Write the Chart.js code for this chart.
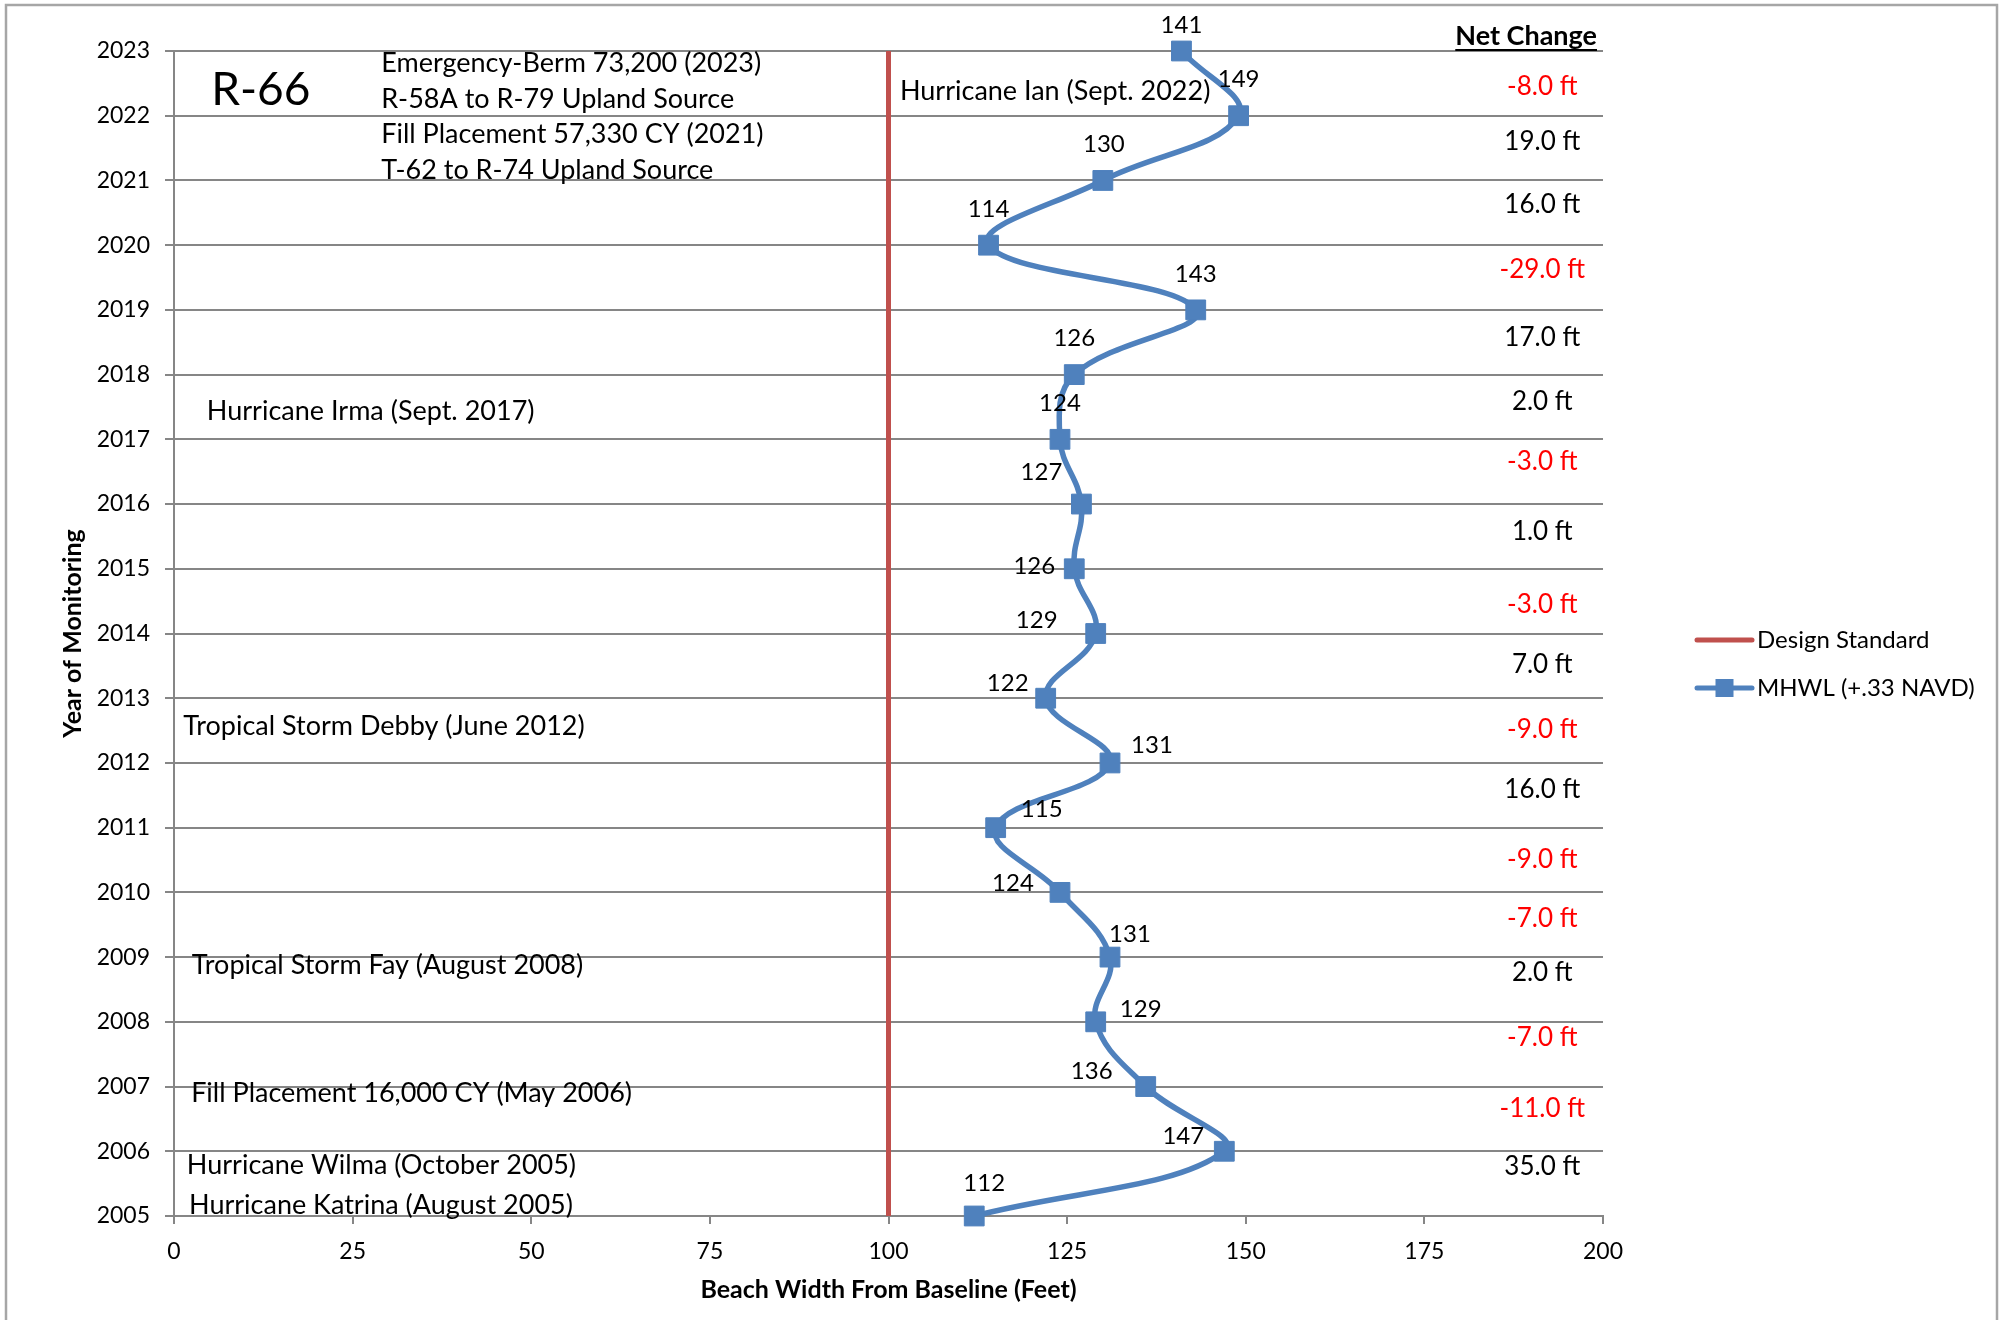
<!DOCTYPE html>
<html>
<head>
<meta charset="utf-8">
<title>R-66 Beach Width</title>
<script src="https://cdn.jsdelivr.net/npm/chart.js@4.4.1/dist/chart.umd.min.js"></script>
<style>
  html, body { margin: 0; padding: 0; background: #fff; }
  #chart { display: block; }
</style>
</head>
<body>
<canvas id="chart" width="2007" height="1320"></canvas>
<script>
// monitoring years, bottom to top
const years = [2005, 2006, 2007, 2008, 2009, 2010, 2011, 2012, 2013, 2014,
  2015, 2016, 2017, 2018, 2019, 2020, 2021, 2022, 2023];
// MHWL beach width (ft) for each year
const beachWidth = [112, 147, 136, 129, 131, 124, 115, 131, 122, 129,
  126, 127, 124, 126, 143, 114, 130, 149, 141];
const designStandard = 100;
// change between consecutive surveys (2005->2006 first)
const netChange = [35, -11, -7, 2, -7, -9, 16, -9, 7, -3,
  1, -3, 2, 17, -29, 16, 19, -8];
const xTicks = [0, 25, 50, 75, 100, 125, 150, 175, 200];

const seriesNames = ['Design Standard', 'MHWL (+.33 NAVD)'];

// event notes written on the plot: text, x (ft), y (year)
const notes = [
  { text: 'Emergency-Berm 73,200 (2023)', x: 29.0, y: 2022.81 },
  { text: 'R-58A to R-79 Upland Source', x: 29.0, y: 2022.26 },
  { text: 'Fill Placement 57,330 CY (2021)', x: 29.0, y: 2021.72 },
  { text: 'T-62 to R-74 Upland Source', x: 29.0, y: 2021.16 },
  { text: 'Hurricane Ian (Sept. 2022)', x: 101.6, y: 2022.38 },
  { text: 'Hurricane Irma (Sept. 2017)', x: 4.6, y: 2017.44 },
  { text: 'Tropical Storm Debby (June 2012)', x: 1.3, y: 2012.56 },
  { text: 'Tropical Storm Fay (August 2008)', x: 2.5, y: 2008.87 },
  { text: 'Fill Placement 16,000 CY (May 2006)', x: 2.4, y: 2006.90 },
  { text: 'Hurricane Wilma (October 2005)', x: 1.8, y: 2005.79 },
  { text: 'Hurricane Katrina (August 2005)', x: 2.1, y: 2005.17 }
];

// where each value label sits relative to its marker (px)
const labelNudge = [
  [10, -33], [-41, -15], [-54, -15], [45, -13], [20, -23], [-47, -9],
  [46, -18], [42, -18], [-38, -15], [-59, -13], [-40, -3], [-40, -32],
  [0, -36], [0, -36], [0, -36], [0, -36], [1, -36], [0, -36], [0, -26]
];
// vertical shift of each net change text from the gap midpoint (px)
const changeNudge = [-17, -10, -17, -17, -6, 0, -6, -1, -1, 3,
  -5, -10, -5, -5, -8, -8, -6, 3];

const FONT = 'Lato, "Open Sans", sans-serif';
const RED = '#C0504D';
const BLUE = '#4F81BD';
const GRID = '#868686';

const frame = {
  id: 'frame',
  beforeDraw(chart) {
    const ctx = chart.ctx;
    ctx.save();
    ctx.strokeStyle = '#a6a6a6';
    ctx.lineWidth = 2.5;
    ctx.strokeRect(6, 5, 1991, 1340);
    ctx.restore();
  }
};

const extras = {
  id: 'extras',
  afterDatasetsDraw(chart) {
    const ctx = chart.ctx;
    const xs = chart.scales.x;
    const ys = chart.scales.y;
    ctx.save();

    // value labels on the MHWL markers
    const pts = chart.getDatasetMeta(1).data;
    ctx.font = '24px ' + FONT;
    ctx.fillStyle = '#000';
    ctx.textAlign = 'center';
    ctx.textBaseline = 'middle';
    pts.forEach((p, i) => {
      const n = labelNudge[i];
      ctx.fillText(String(beachWidth[i]), p.x + n[0], p.y + n[1]);
    });

    // net change column
    ctx.font = '26px ' + FONT;
    netChange.forEach((v, i) => {
      ctx.fillStyle = v < 0 ? '#ff0000' : '#000';
      const y = ys.getPixelForValue(years[i] + 0.5) + changeNudge[i];
      ctx.fillText(v.toFixed(1) + ' ft', xs.getPixelForValue(191.5), y);
    });

    ctx.font = 'bold 27px ' + FONT;
    ctx.fillStyle = '#000';
    ctx.textAlign = 'right';
    const hx = 1597, hy = 36;
    ctx.fillText('Net Change', hx, hy);
    const hw = ctx.measureText('Net Change').width;
    ctx.fillRect(hx - hw, hy + 13, hw, 2);

    // notes
    ctx.textAlign = 'left';
    ctx.font = '27px ' + FONT;
    notes.forEach(n => {
      ctx.fillText(n.text, xs.getPixelForValue(n.x), ys.getPixelForValue(n.y));
    });
    ctx.font = '46px ' + FONT;
    ctx.fillText('R-66', xs.getPixelForValue(5.2), ys.getPixelForValue(2022.4));

    // legend
    const lx = 1697, lw = 55;
    const rows = [640, 688];
    ctx.font = '24px ' + FONT;
    ctx.lineCap = 'round';
    chart.data.datasets.forEach((ds, i) => {
      const y = rows[i];
      ctx.strokeStyle = ds.borderColor;
      ctx.lineWidth = 5;
      ctx.beginPath();
      ctx.moveTo(lx, y);
      ctx.lineTo(lx + lw, y);
      ctx.stroke();
      if (ds.pointRadius) {
        ctx.fillStyle = ds.backgroundColor;
        ctx.fillRect(lx + lw / 2 - 9, y - 9, 18, 18);
      }
      ctx.fillStyle = '#000';
      ctx.fillText(ds.label, lx + lw + 5, y);
    });
    ctx.restore();
  }
};

new Chart(document.getElementById('chart'), {
  type: 'scatter',
  data: {
    datasets: [
      {
        label: seriesNames[0],
        data: [
          { x: designStandard, y: years[0] },
          { x: designStandard, y: years[years.length - 1] }
        ],
        showLine: true,
        borderColor: RED,
        backgroundColor: RED,
        borderWidth: 5,
        pointRadius: 0,
        clip: false
      },
      {
        label: seriesNames[1],
        data: years.map((y, i) => ({ x: beachWidth[i], y: y })),
        showLine: true,
        borderColor: BLUE,
        backgroundColor: BLUE,
        borderWidth: 5.5,
        tension: 0.4,
        pointStyle: 'rect',
        pointRadius: 14,
        pointBorderWidth: 1,
        clip: false
      }
    ]
  },
  options: {
    responsive: false,
    animation: false,
    devicePixelRatio: 1,
    layout: { padding: { top: 51, right: 404, bottom: 0, left: 0 } },
    plugins: {
      legend: { display: false },
      tooltip: { enabled: false }
    },
    scales: {
      x: {
        type: 'linear',
        min: 0,
        max: 200,
        afterBuildTicks: s => { s.ticks = xTicks.map(v => ({ value: v })); },
        afterFit: s => { s.height = 104; },
        grid: { drawOnChartArea: false, drawTicks: true, tickLength: 8, color: GRID, lineWidth: 2 },
        border: { display: true, color: GRID, width: 2 },
        ticks: { color: '#000', font: { family: FONT, size: 23 }, padding: 14, maxRotation: 0 },
        title: {
          display: true,
          text: 'Beach Width From Baseline (Feet)',
          color: '#000',
          font: { family: FONT, size: 25, weight: 'bold' },
          padding: { top: 0, bottom: 15 }
        }
      },
      y: {
        type: 'linear',
        min: 2005,
        max: 2023,
        afterFit: s => { s.width = 174; },
        grid: { color: GRID, lineWidth: 2, drawTicks: true, tickLength: 9 },
        border: { display: true, color: GRID, width: 2 },
        ticks: {
          stepSize: 1,
          autoSkip: false,
          color: '#000',
          font: { family: FONT, size: 23 },
          padding: 15,
          callback: v => String(v)
        },
        title: {
          display: true,
          text: 'Year of Monitoring',
          color: '#000',
          font: { family: FONT, size: 25, weight: 'bold' },
          padding: { top: 58, bottom: 0 }
        }
      }
    }
  },
  plugins: [frame, extras]
});
</script>
</body>
</html>
